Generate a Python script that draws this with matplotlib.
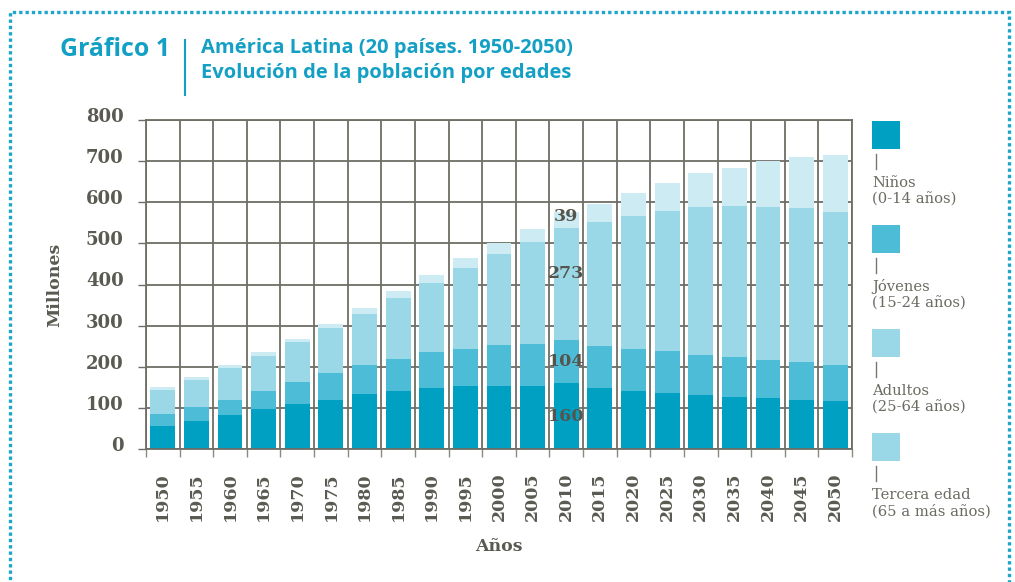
import matplotlib
matplotlib.use("Agg")
import matplotlib.pyplot as plt
import matplotlib.transforms as mtransforms
from matplotlib.patches import Rectangle
from matplotlib.lines import Line2D
import numpy as np

# datos (millones)
anios = [1950, 1955, 1960, 1965, 1970, 1975, 1980, 1985, 1990, 1995, 2000,
         2005, 2010, 2015, 2020, 2025, 2030, 2035, 2040, 2045, 2050]
ninos = [56, 68, 83, 97, 109, 119, 134, 141, 148, 153, 153,
         153, 160, 148, 141, 136, 131, 126, 124, 119, 117]
jovenes = [29, 34, 36, 44, 54, 66, 70, 78, 88, 90, 100,
           102, 104, 102, 102, 102, 98, 98, 92, 93, 87]
adultos = [58, 66, 78, 85, 97, 109, 124, 148, 168, 197, 221,
           248, 273, 302, 324, 341, 360, 367, 373, 374, 372]
tercera = [8, 7, 7, 10, 8, 10, 15, 17, 19, 25, 27,
           32, 39, 44, 56, 68, 82, 92, 111, 124, 139]

series = [ninos, jovenes, adultos, tercera]
colores = ["#00a0c3", "#4dbcd6", "#9bd8e7", "#cdebf3"]
legend_colores = ["#00a0c3", "#4dbcd6", "#9bd8e7", "#9bd8e7"]
legend_txt = [("Niños", "(0-14 años)"), ("Jóvenes", "(15-24 años)"),
              ("Adultos", "(25-64 años)"), ("Tercera edad", "(65 a más años)")]

azul = "#14a0c4"
gris = "#5a5a52"
grid_c = "#6e6e66"

W, H = 1015, 582
fig = plt.figure(figsize=(W / 100, H / 100), dpi=100)
ax = fig.add_axes([146 / W, 1 - 449 / H, (852 - 146) / W, (449 - 120) / H])

x = np.arange(len(anios))
bottom = np.zeros(len(anios))
for vals, c in zip(series, colores):
    ax.bar(x, vals, width=0.74, bottom=bottom, color=c, zorder=2)
    bottom = bottom + np.array(vals)

ax.set_xlim(-0.5, len(anios) - 0.5)
ax.set_ylim(0, 800)
ax.set_yticks(range(0, 801, 100))
ax.set_xticks(x)
ax.set_xticklabels([str(a) for a in anios], rotation=90,
                   fontsize=12.5, fontweight="bold", family="DejaVu Serif", color=gris)
ax.set_xticks(np.arange(-0.5, len(anios), 1), minor=True)
ax.tick_params(axis="x", which="major", length=0, pad=17)
ax.tick_params(axis="x", which="minor", length=6, width=1, color="#8a8a84")
ax.tick_params(axis="y", length=6, width=1, color=grid_c, pad=10)
for lab in ax.get_yticklabels():
    lab.set_fontsize(13)
    lab.set_fontweight("bold")
    lab.set_family("DejaVu Serif")
    lab.set_color(gris)
off = mtransforms.ScaledTranslation(0, 5 / 100, fig.dpi_scale_trans)
for lab in ax.get_yticklabels():
    lab.set_transform(lab.get_transform() + off)

ax.grid(True, axis="y", which="major", color=grid_c, lw=1.3, zorder=0)
ax.grid(True, axis="x", which="minor", color=grid_c, lw=1.3, zorder=0)
ax.set_axisbelow(True)
for s in ax.spines.values():
    s.set_color(grid_c)
    s.set_linewidth(1.3)

ax.set_ylabel("Millones", fontsize=12.5, fontweight="bold", family="DejaVu Serif",
              color=gris, labelpad=16)
ax.set_xlabel("Años", fontsize=12.5, fontweight="bold", family="DejaVu Serif",
              color=gris, labelpad=12)

# etiquetas de la barra 2010
i = anios.index(2010)
b0 = 0
pos = [0.5, 0.5, 0.6, 0.7]
for vals, p in zip(series, pos):
    ax.text(i, b0 + vals[i] * p, str(vals[i]), ha="center", va="center",
            fontsize=12.5, fontweight="bold", family="DejaVu Serif", color="#55554d", zorder=3)
    b0 += vals[i]

# leyenda manual
for k, (c, (t1, t2)) in enumerate(zip(legend_colores, legend_txt)):
    top = 121 + k * 104
    fig.add_artist(Rectangle((872 / W, 1 - (top + 28) / H), 28 / W, 28 / H,
                             transform=fig.transFigure, color=c, lw=0))
    fig.add_artist(Line2D([876 / W, 876 / W], [1 - (top + 33) / H, 1 - (top + 48) / H],
                          transform=fig.transFigure, color="#777770", lw=1))
    fig.text(872 / W, 1 - (top + 70) / H, t1 + "\n" + t2, fontsize=10.6,
             family="DejaVu Serif", color="#6b6b63", va="center", ha="left",
             linespacing=1.2)

# titulo
fig.text(60 / W, 1 - 49 / H, "Gráfico 1", fontsize=17.9, fontweight="bold",
         family="Open Sans", color=azul, va="center", ha="left")
fig.add_artist(Line2D([185 / W, 185 / W], [1 - 40 / H, 1 - 95 / H],
                      transform=fig.transFigure, color=azul, lw=1.5))
fig.text(201 / W, 1 - 48 / H, "América Latina (20 países. 1950-2050)", fontsize=14.5,
         fontweight="bold", family="Open Sans", color=azul, va="center", ha="left")
fig.text(201 / W, 1 - 73 / H, "Evolución de la población por edades", fontsize=14.5,
         fontweight="bold", family="Open Sans", color=azul, va="center", ha="left")

# marco punteado
fig.add_artist(Rectangle((10 / W, -0.1), (1009 - 10) / W, 1.1 - 12 / H,
                         transform=fig.transFigure, fill=False, ec="#1ba6ca",
                         lw=2.4, ls=(0, (1, 0.9))))

fig.savefig("out.png", dpi=100)
